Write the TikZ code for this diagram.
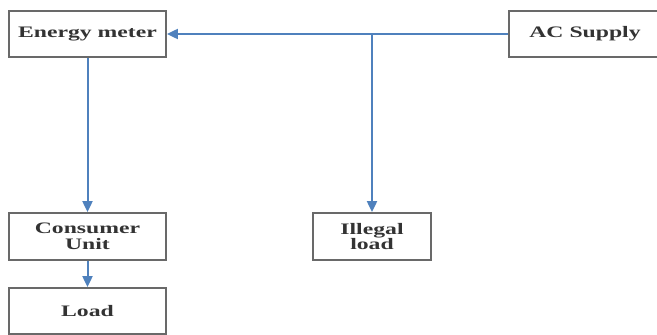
\documentclass[tikz,border=0pt]{standalone}
\usepackage{fontspec}
\setmainfont{Liberation Serif}
\newfontfamily\boxfont[FakeStretch=1.48]{Liberation Serif}
\usetikzlibrary{arrows.meta}

\definecolor{flowblue}{RGB}{79,129,189}
\definecolor{boxgray}{RGB}{105,105,105}

\tikzset{
  unitbox/.style={draw=boxgray, line width=1.8pt, fill=white, inner sep=0pt,
    minimum height=46pt, align=center,
    font=\boxfont\bfseries\fontsize{16}{15.5}\selectfont, text=black!80},
  flow/.style={flowblue, line width=2pt, -{Triangle[length=11pt,width=10pt]}}
}

\begin{document}
\begin{tikzpicture}[x=1pt, y=-1pt]
  \useasboundingbox (0,0) rectangle (657,335);

  % blocks
  \node[unitbox, minimum width=157pt] (meter) at (87.5,34) {Energy meter};
  \node[unitbox, minimum width=152pt] (supply) at (585,34) {AC Supply};
  \node[unitbox, minimum width=157pt, minimum height=47pt] (consumer) at (87.5,236.5) {Consumer\\Unit};
  \node[unitbox, minimum width=157pt] (load) at (87.5,311) {Load};
  \node[unitbox, minimum width=118pt, minimum height=47pt] (illegal) at (372,236.5) {Illegal\\load};

  % tapping point
  \coordinate (tap) at (illegal.north |- meter.east);

  % connectors
  \draw[flow] (supply.west) -- (meter.east);
  \draw[flow] (tap) -- (illegal.north);
  \draw[flow] (meter.south) -- (consumer.north);
  \draw[flow] (consumer.south) -- (load.north);

\end{tikzpicture}
\end{document}
